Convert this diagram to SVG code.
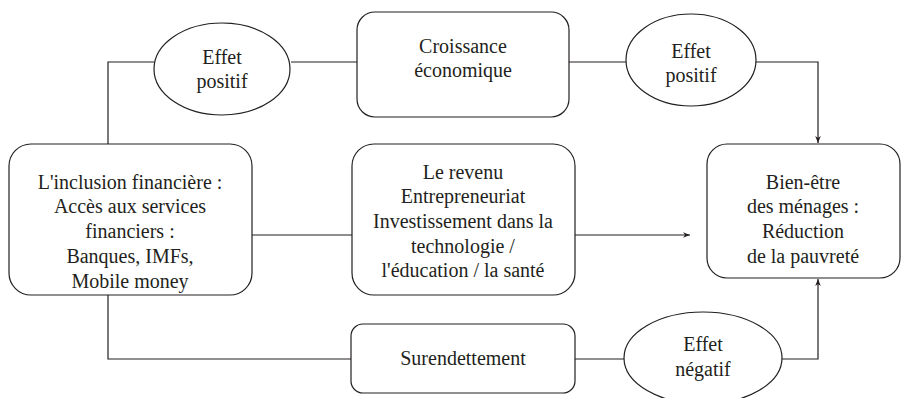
<svg xmlns="http://www.w3.org/2000/svg" width="902" height="398" viewBox="0 0 902 398">
<defs>
<style>
.box{fill:#fff;stroke:#231f20;stroke-width:1.2}
.ln{fill:none;stroke:#231f20;stroke-width:1.2}
text{font-family:"Liberation Serif","Times New Roman",serif;font-size:20px;fill:#231f20;text-anchor:middle}
</style>
<marker id="ah" viewBox="0 0 10 10" refX="10" refY="5" markerWidth="7" markerHeight="7" orient="auto" markerUnits="userSpaceOnUse">
<path d="M0,1 L10,5 L0,9 L3,5 Z" fill="#231f20"/>
</marker>
</defs>
<rect width="902" height="398" fill="#fff"/>
<g id="connectors">
<polyline class="ln" points="108,144 108,62 154,62"/>
<line class="ln" x1="291" y1="62" x2="357" y2="62"/>
<line class="ln" x1="569" y1="62" x2="626" y2="62"/>
<polyline class="ln" points="756,62 818,62 818,143" marker-end="url(#ah)"/>
<line class="ln" x1="252" y1="235" x2="352" y2="235"/>
<line class="ln" x1="575" y1="235" x2="690" y2="235" marker-end="url(#ah)"/>
<polyline class="ln" points="108,295 108,359 351,359"/>
<line class="ln" x1="575" y1="359" x2="624" y2="359"/>
<polyline class="ln" points="782,359 818,359 818,279" marker-end="url(#ah)"/>
</g>
<g id="effet-positif-1">
<ellipse class="box" cx="222" cy="69" rx="68" ry="46"/>
<text x="222" y="64">Effet</text>
<text x="222" y="88">positif</text>
</g>
<g id="croissance">
<rect class="box" x="357" y="12" width="212" height="105" rx="18"/>
<text x="463" y="53">Croissance</text>
<text x="463" y="77">économique</text>
</g>
<g id="effet-positif-2">
<ellipse class="box" cx="691" cy="60" rx="65" ry="46"/>
<text x="691" y="58">Effet</text>
<text x="691" y="82">positif</text>
</g>
<g id="inclusion">
<rect class="box" x="9" y="144" width="243" height="151" rx="22"/>
<text x="130" y="189">L'inclusion financière :</text>
<text x="130" y="213">Accès aux services</text>
<text x="130" y="238">financiers :</text>
<text x="130" y="263">Banques, IMFs,</text>
<text x="130" y="288">Mobile money</text>
</g>
<g id="revenu">
<rect class="box" x="352" y="144" width="223" height="151" rx="22"/>
<text x="463" y="179">Le revenu</text>
<text x="463" y="203">Entrepreneuriat</text>
<text x="463" y="228">Investissement dans la</text>
<text x="463" y="253">technologie /</text>
<text x="463" y="277">l'éducation / la santé</text>
</g>
<g id="bien-etre">
<rect class="box" x="707" y="144" width="193" height="134" rx="20"/>
<text x="803" y="189">Bien-être</text>
<text x="803" y="213">des ménages :</text>
<text x="803" y="238">Réduction</text>
<text x="803" y="263">de la pauvreté</text>
</g>
<g id="surendettement">
<rect class="box" x="351" y="324" width="224" height="69" rx="12"/>
<text x="463" y="365">Surendettement</text>
</g>
<g id="effet-negatif">
<ellipse class="box" cx="703" cy="358" rx="79" ry="46"/>
<text x="703" y="351">Effet</text>
<text x="703" y="376">négatif</text>
</g>
</svg>
